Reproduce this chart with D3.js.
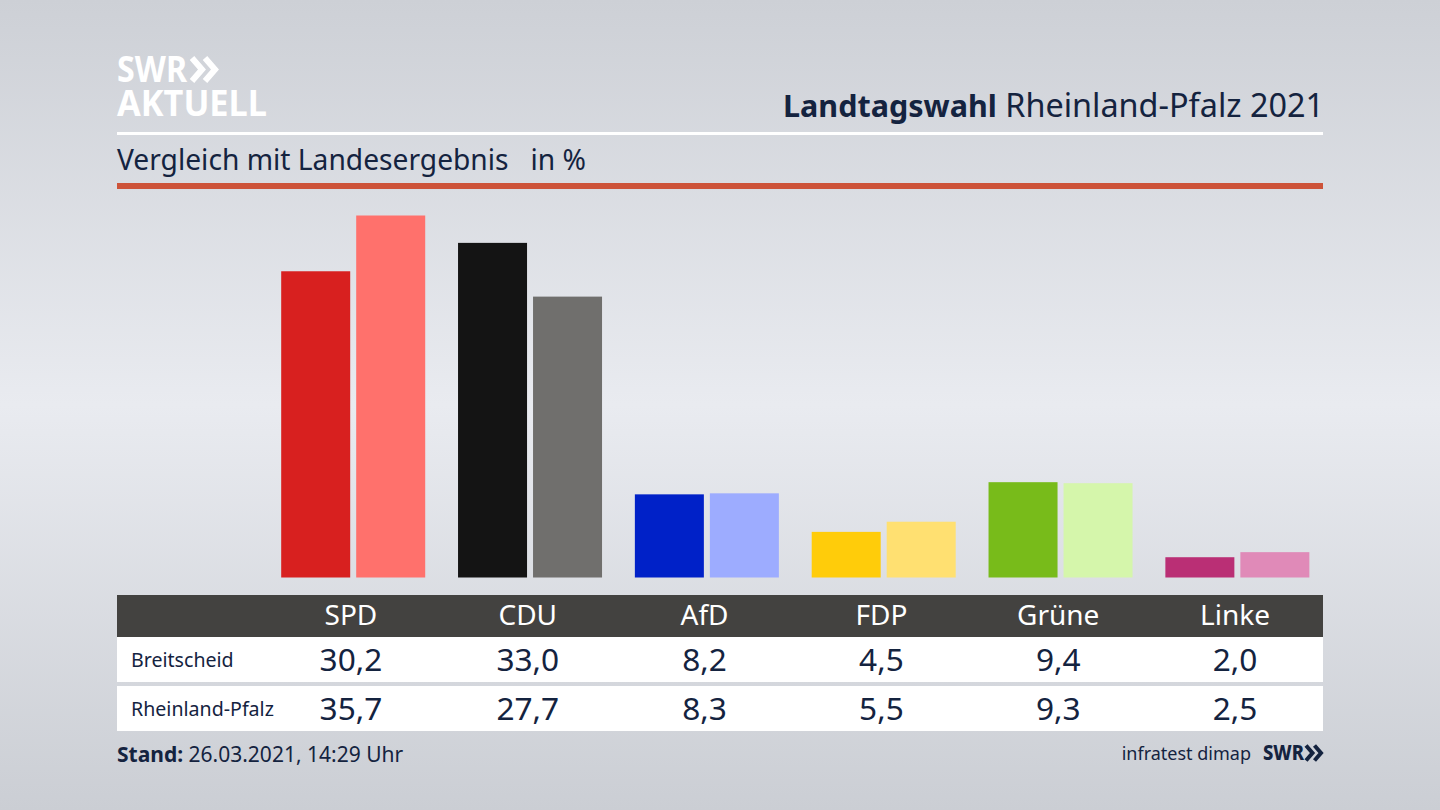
<!DOCTYPE html>
<html>

<head>
    <meta charset="utf-8">
    <title>Landtagswahl Rheinland-Pfalz 2021</title>
    <script src="https://cdn.jsdelivr.net/npm/d3@7/dist/d3.min.js"></script>
    <style>
        html, body { margin: 0; padding: 0; background: #dfe1e6; }
        svg { display: block; }
        text { font-family: "Noto Sans", sans-serif; fill: #14233f; }
    </style>
</head>

<body>
    <svg id="chart" width="1440" height="810"></svg>
    <script>
        // Werte aus dem Bild
        var parties = ["SPD", "CDU", "AfD", "FDP", "Grüne", "Linke"];
        var rows = ["Breitscheid", "Rheinland-Pfalz"];
        var breitscheid = [30.2, 33.0, 8.2, 4.5, 9.4, 2.0];
        var landesergebnis = [35.7, 27.7, 8.3, 5.5, 9.3, 2.5];
        var colorsLocal = ["#d8201f", "#141414", "#0021c8", "#ffcc0a", "#78bb1a", "#ba2f75"];
        var colorsState = ["#ff716c", "#706f6d", "#9dacff", "#ffe071", "#d5f6ab", "#e08ab8"];

        var svg = d3.select("#chart");
        var fmt = function (v) { return v.toFixed(1).replace(".", ","); };

        // Hintergrund
        var defs = svg.append("defs");
        var bg = defs.append("linearGradient").attr("id", "bg")
            .attr("x1", 0).attr("y1", 0).attr("x2", 0).attr("y2", 1);
        [[0, "#cdd0d6"], [0.5, "#e9ebf0"], [1, "#cbced4"]].forEach(function (s) {
            bg.append("stop").attr("offset", s[0]).attr("stop-color", s[1]);
        });
        svg.append("rect").attr("width", 1440).attr("height", 810).attr("fill", "url(#bg)");

        // Skalen
        var x = d3.scaleBand().domain(parties).range([264.7, 1325.7]);
        var xInner = d3.scaleBand().domain([0, 1]).range([16.5, 160.5]).paddingInner(0.08);
        var y = d3.scaleLinear().domain([0, 35.7]).range([577.5, 215.5]);
        var labelX = function (p) { return x(p) + x.bandwidth() / 2 - 2.2; };

        // Kopf
        function chevrons(g, x0, y0, h, w, gap, sw, color) {
            [0, 1].forEach(function (i) {
                g.append("path")
                    .attr("d", d3.line()([[x0 + i * gap, y0], [x0 + i * gap + w, y0 + h / 2], [x0 + i * gap, y0 + h]]))
                    .attr("fill", "none").attr("stroke", color).attr("stroke-width", sw);
            });
        }
        var logo = svg.append("g");
        var logoText = logo.append("text").attr("font-size", 36).attr("font-weight", 700).style("fill", "#fff");
        logoText.append("tspan").attr("x", 117).attr("y", 82)
            .attr("textLength", 70).attr("lengthAdjust", "spacingAndGlyphs").text("SWR");
        logoText.append("tspan").attr("x", 117).attr("y", 116)
            .attr("textLength", 150).attr("lengthAdjust", "spacingAndGlyphs").text("AKTUELL");
        chevrons(logo, 192, 58, 23, 10, 13, 6, "#fff");

        var title = svg.append("text").attr("x", 1324).attr("y", 117).attr("text-anchor", "end");
        title.append("tspan").attr("font-weight", 700).attr("font-size", 30.5).text("Landtagswahl");
        title.append("tspan").attr("font-size", 32.4).text(" Rheinland-Pfalz 2021");

        svg.append("rect").attr("x", 117).attr("y", 132).attr("width", 1206).attr("height", 3).attr("fill", "#fff");
        svg.append("text").attr("x", 117).attr("y", 170).attr("font-size", 28.2)
            .style("white-space", "pre").text("Vergleich mit Landesergebnis   in %");
        svg.append("rect").attr("x", 117).attr("y", 183).attr("width", 1206).attr("height", 6).attr("fill", "#cd5339");

        // Balken
        var groups = svg.append("g").selectAll("g").data(parties).join("g")
            .attr("transform", function (p) { return "translate(" + x(p) + ",0)"; });
        groups.append("rect")
            .attr("x", xInner(0)).attr("width", xInner.bandwidth())
            .attr("y", function (p, i) { return y(breitscheid[i]); })
            .attr("height", function (p, i) { return y(0) - y(breitscheid[i]); })
            .attr("fill", function (p, i) { return colorsLocal[i]; });
        groups.append("rect")
            .attr("x", xInner(1)).attr("width", xInner.bandwidth())
            .attr("y", function (p, i) { return y(landesergebnis[i]); })
            .attr("height", function (p, i) { return y(0) - y(landesergebnis[i]); })
            .attr("fill", function (p, i) { return colorsState[i]; });

        // Tabelle
        svg.append("rect").attr("x", 117).attr("y", 595).attr("width", 1206).attr("height", 42).attr("fill", "#434240");
        svg.append("rect").attr("x", 117).attr("y", 637).attr("width", 1206).attr("height", 45).attr("fill", "#fff");
        svg.append("rect").attr("x", 117).attr("y", 686).attr("width", 1206).attr("height", 45).attr("fill", "#fff");

        svg.append("g").selectAll("text").data(parties).join("text")
            .attr("x", labelX).attr("y", 625).attr("text-anchor", "middle").attr("font-size", 28)
            .style("fill", "#fff").text(function (p) { return p; });

        svg.append("g").selectAll("text").data(rows).join("text")
            .attr("x", 131).attr("y", function (r, i) { return 666.5 + i * 49; }).attr("font-size", 19.6)
            .text(function (r) { return r; });

        [breitscheid, landesergebnis].forEach(function (values, r) {
            svg.append("g").selectAll("text").data(values).join("text")
                .attr("x", function (v, i) { return labelX(parties[i]); })
                .attr("y", 671 + r * 49).attr("text-anchor", "middle").attr("font-size", 31.6)
                .text(fmt);
        });

        // Fuss
        var stand = svg.append("text").attr("x", 117).attr("y", 762).attr("font-size", 21);
        stand.append("tspan").attr("font-weight", 700).text("Stand:");
        stand.append("tspan").text(" 26.03.2021, 14:29 Uhr");

        svg.append("text").attr("x", 1251).attr("y", 760).attr("text-anchor", "end").attr("font-size", 18).text("infratest dimap");
        svg.append("text").attr("x", 1263).attr("y", 760).attr("font-size", 21).attr("font-weight", 800)
            .attr("textLength", 41).attr("lengthAdjust", "spacingAndGlyphs").text("SWR");
        chevrons(svg.append("g"), 1306, 745.5, 15, 6.5, 8.5, 4, "#14233f");
    </script>
</body>

</html>
